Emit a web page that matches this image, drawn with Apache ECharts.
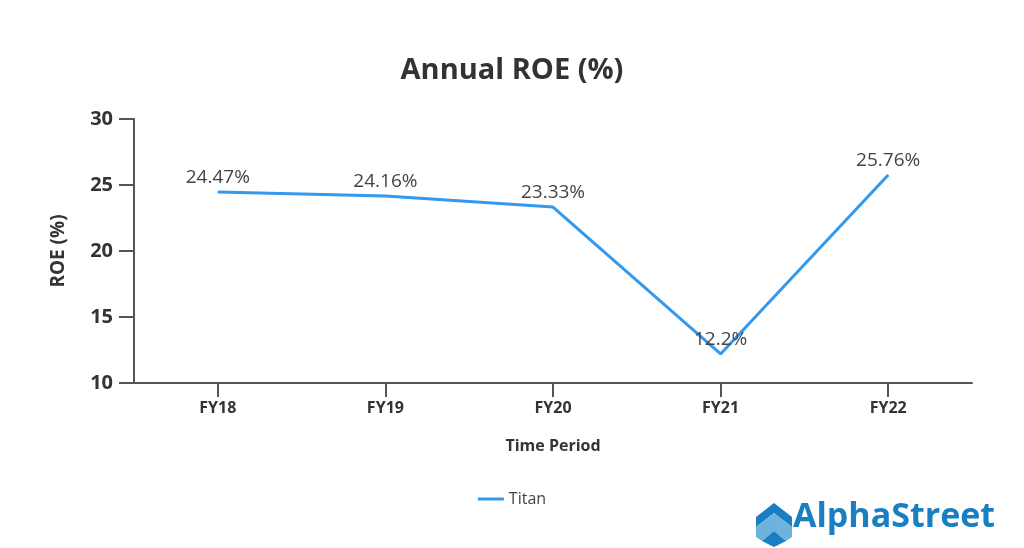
<!DOCTYPE html>
<html><head><meta charset="utf-8">
<script src="https://cdn.jsdelivr.net/npm/echarts@6/dist/echarts.min.js"></script>
<style>html,body{margin:0;padding:0;background:#fff}#c{width:1024px;height:548px}</style>
</head><body><div id="c"></div>
<script>
const categories = ['FY18','FY19','FY20','FY21','FY22'];
const titanROE = [24.47, 24.16, 23.33, 12.2, 25.76];
const yTicks = [10, 15, 20, 25, 30];

const F = '"Open Sans", "Noto Sans", sans-serif';
const chart = echarts.init(document.getElementById('c'), null, {renderer: 'canvas'});
chart.setOption({
  animation: false,
  title: {text: 'Annual ROE (%)', left: 'center', top: 51,
    textStyle: {fontFamily: F, fontSize: 29, fontWeight: 'bold', color: '#333'}},
  legend: {bottom: 36, left: 'center', icon: 'rect', itemWidth: 26, itemHeight: 3,
    textStyle: {fontFamily: F, fontSize: 16, color: '#444'},
    data: [{name: 'Titan', itemStyle: {color: '#3399ee'}}]},
  grid: {left: 134, right: 52, top: 119, bottom: 165},
  xAxis: {type: 'category', data: categories, boundaryGap: true,
    name: 'Time Period', nameLocation: 'middle', nameGap: 55,
    nameTextStyle: {fontFamily: F, fontSize: 16, fontWeight: 'bold', color: '#333'},
    axisLine: {show: true, lineStyle: {color: '#555', width: 2}},
    axisTick: {show: true, alignWithLabel: true, length: 14, lineStyle: {color: '#555', width: 2}},
    axisLabel: {fontFamily: F, fontSize: 16, fontWeight: 'bold', color: '#333', margin: 17}},
  yAxis: {type: 'value', min: yTicks[0], max: yTicks[yTicks.length-1], interval: 5,
    name: 'ROE (%)', nameLocation: 'middle', nameGap: 66, nameRotate: 90,
    nameTextStyle: {fontFamily: F, fontSize: 19, fontWeight: 'bold', color: '#333'},
    axisLine: {show: true, lineStyle: {color: '#555', width: 2}},
    axisTick: {show: true, inside: false, length: 15, lineStyle: {color: '#555', width: 2}},
    splitLine: {show: false},
    axisLabel: {fontFamily: F, fontSize: 20, fontWeight: 'bold', color: '#333', margin: 21}},
  series: [{name: 'Titan', type: 'line', data: titanROE, showSymbol: true, symbol: 'circle', symbolSize: 1,
    lineStyle: {color: '#3399ee', width: 3}, itemStyle: {color: '#3399ee'},
    label: {show: true, position: 'top', distance: 4, formatter: p => p.value + '%',
      fontFamily: F, fontSize: 19, color: '#444'}}],
  graphic: [
    {type: 'group', left: 756, top: 503, children: [
      {type: 'polygon', shape: {points: [[0,14],[18,0],[36,14],[36,24],[18,10],[0,24]]}, style: {fill: '#1a7fc2'}},
      {type: 'polygon', shape: {points: [[0,24],[18,10],[36,24],[36,34],[30,38],[18,28],[6,38],[0,34]]}, style: {fill: '#6db3de'}},
      {type: 'polygon', shape: {points: [[6,38],[18,28],[30,38],[18,44]]}, style: {fill: '#1a7fc2'}}
    ]},
    {type: 'text', left: 793, top: 500, style: {text: 'AlphaStreet', fontFamily: F, fontSize: 34, fontWeight: 'bold', fill: '#1a7fc2'}}
  ]
});
</script></body></html>
